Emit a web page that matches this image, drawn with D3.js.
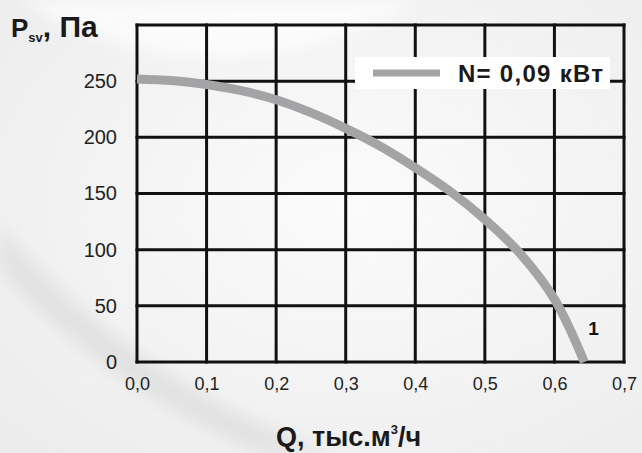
<!DOCTYPE html>
<html>
<head>
<meta charset="utf-8">
<script src="https://cdn.jsdelivr.net/npm/d3@7"></script>
<style>
    body { margin: 0; background: #f3f3f3; }
    svg { display: block; font-family: "Liberation Sans", Arial, sans-serif; }
</style>
</head>
<body>
<svg id="chart" width="642" height="453"></svg>
<script>
'use strict';

// flow, thousand m3/h
let flow = [0, 0.05, 0.1, 0.15, 0.2, 0.25, 0.3, 0.35, 0.4, 0.45, 0.5, 0.55, 0.6, 0.643]
// static pressure, Pa
let pressure = [252, 250.5, 247, 241.5, 233.5, 222, 208, 192, 173, 152, 127, 97, 56, 0]

let xTickValues = [0, 0.1, 0.2, 0.3, 0.4, 0.5, 0.6, 0.7]
let xTickLabels = ["0,0", "0,1", "0,2", "0,3", "0,4", "0,5", "0,6", "0,7"]
let yTickValues = [0, 50, 100, 150, 200, 250, 300]
let yTickLabels = ["0", "50", "100", "150", "200", "250", ""]

let legendLabel = "N= 0,09 кВт"
let curveLabel = "1"

let svg = d3.select("#chart")
let width = +svg.attr("width")
let height = +svg.attr("height")

let plot = { left: 137, right: 624, top: 25, bottom: 362 }

let x = d3.scaleLinear().domain([0, 0.7]).range([plot.left, plot.right])
let y = d3.scaleLinear().domain([0, 300]).range([plot.bottom, plot.top])

// soft background with swooshes
let defs = svg.append("defs")
let bg = defs.append("radialGradient").attr("id", "bg")
    .attr("cx", "55%").attr("cy", "45%").attr("r", "75%")
bg.append("stop").attr("offset", "0%").attr("stop-color", "#fbfbfb")
bg.append("stop").attr("offset", "100%").attr("stop-color", "#ececec")
defs.append("filter").attr("id", "blur")
    .append("feGaussianBlur").attr("stdDeviation", 8)

svg.append("rect").attr("width", width).attr("height", height).attr("fill", "url(#bg)")
svg.append("path")
    .attr("d", "M0,225 C60,300 180,400 330,453 L260,453 C150,410 50,330 0,270 Z")
    .attr("fill", "#e2e2e2").attr("filter", "url(#blur)")
svg.append("path")
    .attr("d", "M20,0 C120,60 260,90 420,0 Z")
    .attr("fill", "#ffffff").attr("opacity", 0.7).attr("filter", "url(#blur)")

// grid
let grid = svg.append("g").attr("class", "grid")
grid.selectAll("line.v")
    .data(xTickValues)
    .enter().append("line")
    .attr("class", "v")
    .attr("x1", d => x(d)).attr("x2", d => x(d))
    .attr("y1", plot.top).attr("y2", plot.bottom)
grid.selectAll("line.h")
    .data(yTickValues)
    .enter().append("line")
    .attr("class", "h")
    .attr("x1", plot.left).attr("x2", plot.right)
    .attr("y1", d => y(d)).attr("y2", d => y(d))
grid.selectAll("line")
    .attr("stroke", "#111")
    .attr("stroke-width", 3)
    .attr("stroke-linecap", "square")

// axes (labels only)
let xAxis = d3.axisBottom(x)
    .tickValues(xTickValues)
    .tickFormat((d, i) => xTickLabels[i])
    .tickSize(0)
    .tickPadding(15)
let gx = svg.append("g").attr("transform", "translate(0," + plot.bottom + ")").call(xAxis)
gx.select(".domain").remove()
gx.selectAll("text")
    .attr("font-size", 18)
    .attr("font-family", "Liberation Sans, Arial, sans-serif")
    .attr("fill", "#222")

let yAxis = d3.axisLeft(y)
    .tickValues(yTickValues)
    .tickFormat((d, i) => yTickLabels[i])
    .tickSize(0)
    .tickPadding(20)
let gy = svg.append("g").attr("transform", "translate(" + plot.left + ",0)").call(yAxis)
gy.select(".domain").remove()
gy.selectAll("text")
    .attr("font-size", 20)
    .attr("font-family", "Liberation Sans, Arial, sans-serif")
    .attr("fill", "#222")

// curve
let line = d3.line()
    .x((d, i) => x(flow[i]))
    .y(d => y(d))
    .curve(d3.curveCatmullRom.alpha(0.5))

svg.append("path")
    .datum(pressure)
    .attr("d", line)
    .attr("fill", "none")
    .attr("stroke", "#a4a4a6")
    .attr("stroke-width", 9)

svg.append("text")
    .attr("x", x(flow[flow.length - 1]) + 4)
    .attr("y", y(24))
    .attr("font-size", 19)
    .attr("font-weight", "bold")
    .attr("fill", "#111")
    .text(curveLabel)

// legend
let legend = svg.append("g")
legend.append("rect")
    .attr("x", 355).attr("y", 57)
    .attr("width", 255).attr("height", 32)
    .attr("fill", "#ffffff")
legend.append("line")
    .attr("x1", 373).attr("x2", 440)
    .attr("y1", 73).attr("y2", 73)
    .attr("stroke", "#a4a4a6")
    .attr("stroke-width", 7)
legend.append("text")
    .attr("x", 458).attr("y", 82)
    .attr("font-size", 24)
    .attr("font-weight", "bold")
    .attr("fill", "#1a1a1a")
    .attr("textLength", 145)
    .text(legendLabel)

// axis titles
let yTitle = svg.append("text")
    .attr("x", 11).attr("y", 37)
    .attr("font-weight", "bold")
    .attr("fill", "#1a1a1a")
yTitle.append("tspan").attr("font-size", 26).text("P")
yTitle.append("tspan").attr("font-size", 13).attr("dy", 5).text("sv")
yTitle.append("tspan").attr("font-size", 30).attr("dy", -5).text(", Па")

let xTitle = svg.append("text")
    .attr("x", 276).attr("y", 446)
    .attr("font-weight", "bold")
    .attr("fill", "#1a1a1a")
xTitle.append("tspan").attr("font-size", 27).text("Q, тыс.м")
xTitle.append("tspan").attr("font-size", 13).attr("dy", -12).text("3")
xTitle.append("tspan").attr("font-size", 27).attr("dy", 12).text("/ч")
</script>
</body>
</html>
